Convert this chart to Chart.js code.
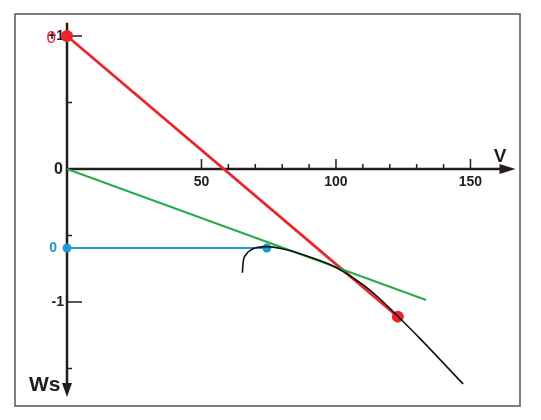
<!DOCTYPE html>
<html>
<head>
<meta charset="utf-8">
<script src="https://cdn.jsdelivr.net/npm/chart.js@4/dist/chart.umd.min.js"></script>
<style>
  body { margin: 0; background: #fff; }
  #wrap { width: 541px; height: 420px; }
</style>
</head>
<body>
<div id="wrap"><canvas id="chart" width="541" height="420"></canvas></div>
<script>
// values (V horizontal, Ws vertical)
const redX = [0, 123];
const redY = [1, -1.11];
const greenX = [0, 133.5];
const greenY = [0, -0.985];
const blueX = [0, 74.3];
const blueY = [-0.594, -0.594];
const curveX = [65.2, 65.5, 66.5, 68.5, 71, 74.2, 80, 90, 100, 110, 116, 122.6, 131, 147.3];
const curveY = [-0.78, -0.7, -0.645, -0.607, -0.588, -0.584, -0.6, -0.66, -0.74, -0.87, -0.97, -1.1, -1.27, -1.617];

const xMajor = [50, 100, 150];
const xMinor = [60, 70, 80, 90, 110, 120, 130, 140];
const yMajor = [1, -1];
const yMinor = [0.5, -0.5, -1.5];
const yLabels = ['+1', '-1'];

const RED = '#e8262b';
const GREEN = '#22ad4a';
const BLUE = '#1e98d2';
const INK = '#231c1a';

function pts(xs, ys) {
    return xs.map((x, i) => ({ x: x, y: ys[i] }));
}

const axesPlugin = {
    id: 'axes',
    beforeDatasetsDraw(chart) {
        const ctx = chart.ctx;
        const sx = chart.scales.x;
        const sy = chart.scales.y;
        const x0 = sx.getPixelForValue(0);
        const y0 = sy.getPixelForValue(0);
        ctx.save();

        // frame
        ctx.strokeStyle = '#555';
        ctx.lineWidth = 1.5;
        ctx.strokeRect(15, 14, 505, 392);

        ctx.strokeStyle = INK;
        ctx.fillStyle = INK;
        ctx.lineWidth = 2.5;

        // y axis going down with arrow
        const yTop = sy.getPixelForValue(1.1);
        const yEnd = sy.getPixelForValue(-1.7);
        ctx.beginPath();
        ctx.moveTo(x0, yTop);
        ctx.lineTo(x0, yEnd - 6);
        ctx.stroke();
        ctx.beginPath();
        ctx.moveTo(x0 - 5, yEnd - 12);
        ctx.lineTo(x0 + 5, yEnd - 12);
        ctx.lineTo(x0, yEnd + 2);
        ctx.closePath();
        ctx.fill();

        // x axis with arrow
        const xEnd = sx.getPixelForValue(166);
        ctx.beginPath();
        ctx.moveTo(x0, y0);
        ctx.lineTo(xEnd - 6, y0);
        ctx.stroke();
        ctx.beginPath();
        ctx.moveTo(xEnd - 14, y0 - 5);
        ctx.lineTo(xEnd + 2, y0);
        ctx.lineTo(xEnd - 14, y0 + 5);
        ctx.closePath();
        ctx.fill();

        // ticks
        ctx.lineWidth = 1.5;
        xMajor.forEach(v => {
            const p = sx.getPixelForValue(v);
            ctx.beginPath(); ctx.moveTo(p, y0); ctx.lineTo(p, y0 - 10); ctx.stroke();
        });
        xMinor.forEach(v => {
            const p = sx.getPixelForValue(v);
            ctx.beginPath(); ctx.moveTo(p, y0); ctx.lineTo(p, y0 - 5); ctx.stroke();
        });
        yMajor.forEach(v => {
            const p = sy.getPixelForValue(v);
            ctx.beginPath(); ctx.moveTo(x0, p); ctx.lineTo(x0 + 15, p); ctx.stroke();
        });
        yMinor.forEach(v => {
            const p = sy.getPixelForValue(v);
            ctx.beginPath(); ctx.moveTo(x0, p); ctx.lineTo(x0 + 5, p); ctx.stroke();
        });

        // labels
        ctx.textBaseline = 'middle';
        ctx.textAlign = 'center';
        ctx.font = 'bold 14px "Liberation Sans", Arial, sans-serif';
        xMajor.forEach(v => {
            ctx.fillText(String(v), sx.getPixelForValue(v), y0 + 13);
        });
        ctx.textAlign = 'right';
        ctx.font = 'bold 14px "Liberation Sans", Arial, sans-serif';
        yMajor.forEach((v, i) => {
            ctx.fillText(yLabels[i], x0 - 3, sy.getPixelForValue(v));
        });
        ctx.font = 'bold 16px "Liberation Sans", Arial, sans-serif';
        ctx.fillText('0', x0 - 4, y0 + 1);

        ctx.fillStyle = RED;
        ctx.font = '17px "Liberation Sans", Arial, sans-serif';
        ctx.fillText('0', x0 - 11, sy.getPixelForValue(1) + 2);
        ctx.fillStyle = BLUE;
        ctx.font = 'bold 14px "Liberation Sans", Arial, sans-serif';
        ctx.fillText('0', x0 - 10, sy.getPixelForValue(blueY[0]));

        ctx.fillStyle = INK;
        ctx.textAlign = 'center';
        ctx.font = 'bold 19px "Liberation Sans", Arial, sans-serif';
        ctx.fillText('V', 500, 157);
        ctx.textAlign = 'left';
        ctx.font = 'bold 21px "Liberation Sans", Arial, sans-serif';
        ctx.fillText('Ws', 29, 385);
        ctx.restore();
    }
};

const ctx = document.getElementById('chart').getContext('2d');
new Chart(ctx, {
    type: 'scatter',
    data: {
        datasets: [
            {
                data: pts(curveX, curveY),
                showLine: true,
                borderColor: '#111',
                borderWidth: 1.6,
                pointRadius: 0,
                cubicInterpolationMode: 'monotone',
                clip: false,
            },
            {
                data: pts(greenX, greenY),
                showLine: true,
                borderColor: GREEN,
                borderWidth: 2,
                pointRadius: 0,
                clip: false,
            },
            {
                data: pts(blueX, blueY),
                showLine: true,
                borderColor: BLUE,
                backgroundColor: BLUE,
                borderWidth: 2.2,
                pointRadius: 4.5,
                pointBorderWidth: 0,
                clip: false,
            },
            {
                data: pts(redX, redY),
                showLine: true,
                borderColor: RED,
                backgroundColor: RED,
                borderWidth: 2.8,
                pointRadius: 6,
                pointBorderWidth: 0,
                clip: false,
            },
        ],
    },
    options: {
        responsive: false,
        animation: false,
        layout: {
            padding: { left: 67, right: 27.5, top: 22.7, bottom: 24.9 },
        },
        scales: {
            x: { type: 'linear', min: 0, max: 166, display: false },
            y: { type: 'linear', min: -1.7, max: 1.1, display: false },
        },
        plugins: {
            legend: { display: false },
            tooltip: { enabled: false },
        },
    },
    plugins: [axesPlugin],
});
</script>
</body>
</html>
